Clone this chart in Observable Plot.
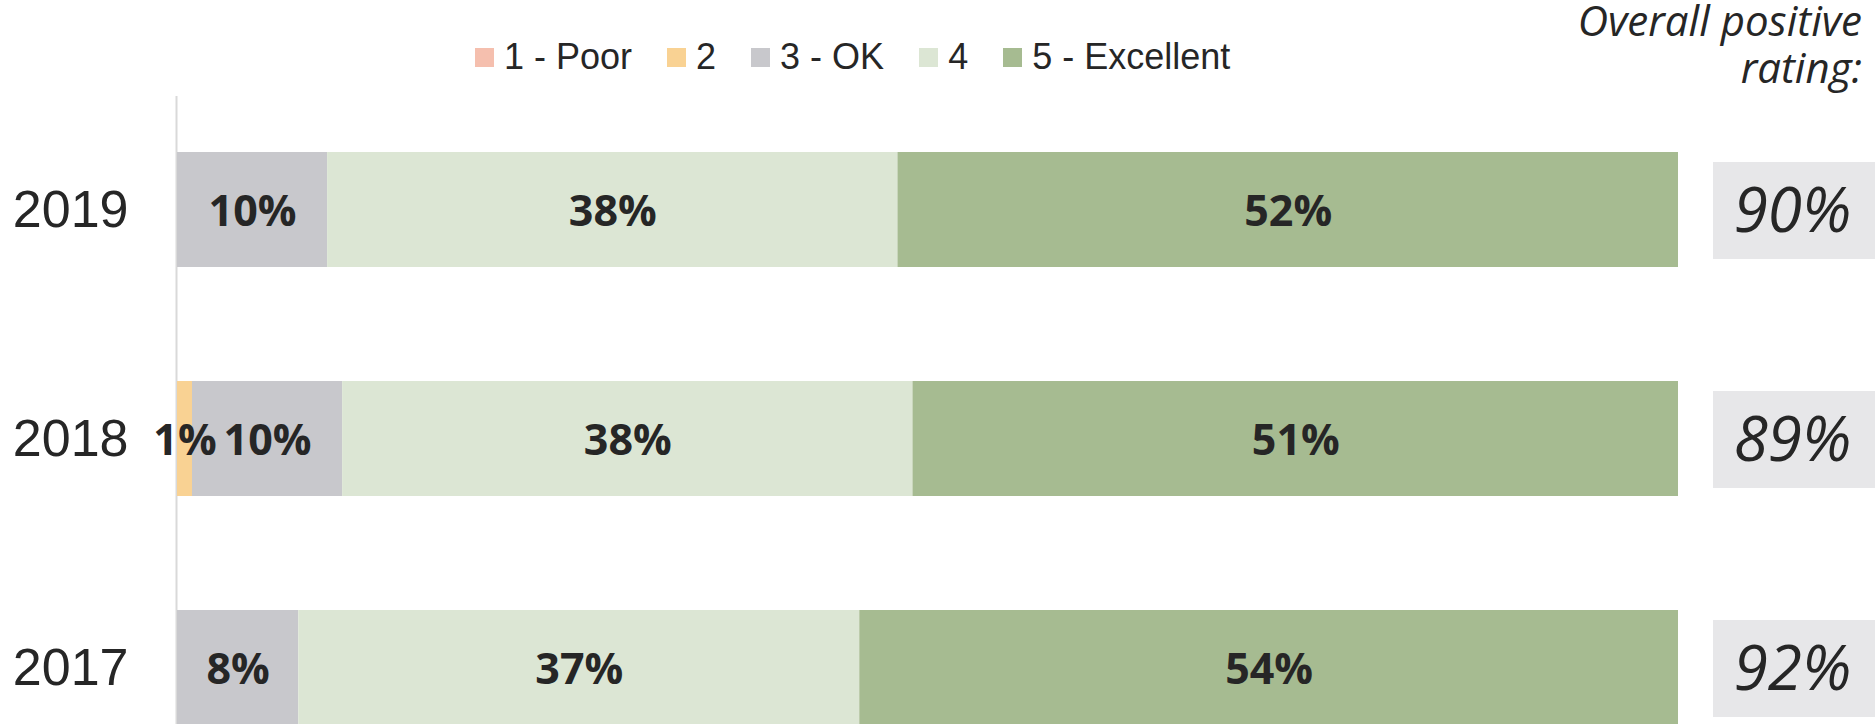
<!DOCTYPE html>
<html><head><meta charset="utf-8">
<script src="https://cdn.jsdelivr.net/npm/d3@7"></script>
<script src="https://cdn.jsdelivr.net/npm/@observablehq/plot@0.6"></script>
<style>
html,body{margin:0;padding:0;background:#fff;overflow:hidden;}
#wrap{position:relative;width:1875px;height:724px;overflow:hidden;}
#header{position:relative;height:96px;}
#legend{position:absolute;left:475px;top:36px;display:flex;align-items:center;font-family:"Liberation Sans",Arial,sans-serif;font-size:36px;color:#262626;white-space:nowrap;}
.item{display:flex;align-items:center;margin-right:35px;}
.sw{width:19px;height:19px;margin-right:10px;}
#title{position:absolute;right:13px;top:0px;text-align:right;font-family:"Open Sans",sans-serif;font-style:italic;font-size:42px;color:#262626;z-index:2;}
#title div{line-height:40px;height:40px;}
#title div + div{margin-top:7px;}
</style></head>
<body>
<div id="wrap">
  <div id="header"><div id="legend"></div><div id="title"><div>Overall positive</div><div>rating:</div></div></div>
  <div id="chart"></div>
</div>
<script>
// ---- data ----
const years = ["2019", "2018", "2017"];
const ratings = ["1 - Poor", "2", "3 - OK", "4", "5 - Excellent"];
const ratingColors = ["#f5bfae", "#f9d293", "#c8c8cc", "#dce6d4", "#a6bb91"];
const values2019 = [0, 0, 10, 38, 52];
const values2018 = [0, 1, 10, 38, 51];
const values2017 = [0, 0, 8, 37, 54];
const overallPositive = [90, 89, 92];

// ---- tables built from the arrays ----
const byYear = {"2019": values2019, "2018": values2018, "2017": values2017};
const rows = [];
years.forEach(y => ratings.forEach((r, j) => rows.push({year: y, rating: r, value: byYear[y][j]})));
const overallRows = years.map((y, i) => ({year: y, value: overallPositive[i]}));

// ---- legend ----
const legend = document.getElementById("legend");
ratings.forEach((r, i) => {
  const it = document.createElement("div"); it.className = "item";
  const sw = document.createElement("span"); sw.className = "sw"; sw.style.background = ratingColors[i];
  const tx = document.createElement("span"); tx.textContent = r;
  it.appendChild(sw); it.appendChild(tx); legend.appendChild(it);
});

// layout constants (positions beyond the 100% bar, in normalized x units)
const boxX1 = 1 + 35 / 1501, boxX2 = 1 + 220 / 1501, boxTextX = 1 + 114 / 1501;

const chart = Plot.plot({
  width: 1875,
  height: 628,
  marginTop: 0, marginBottom: 0, marginLeft: 177, marginRight: 197,
  style: {color: "#262626", background: "transparent", overflow: "visible"},
  x: {domain: [0, 1], axis: null},
  y: {domain: years, range: [56, 629], paddingInner: 0.5, paddingOuter: 0, axis: null},
  color: {domain: ratings, range: ratingColors},
  marks: [
    Plot.ruleX([0], {stroke: "#d9d9d9", strokeWidth: 2, dx: -1}),
    Plot.barX(rows, Plot.stackX({x: "value", y: "year", fill: "rating", offset: "normalize"})),
    Plot.text(rows, Plot.stackX({x: "value", y: "year", offset: "normalize", filter: d => d.value > 0,
      text: d => d.value + "%", fontFamily: "Open Sans", fontWeight: 700, fontSize: 43, fill: "#262626", dy: 2})),
    Plot.axisY({tickSize: 0, tickPadding: 49, fontSize: 52, fontFamily: "Liberation Sans", label: null}),
    Plot.barX(overallRows, {y: "year", x1: () => boxX1, x2: () => boxX2, fill: "#e7e7e9", insetTop: 10, insetBottom: 8}),
    Plot.text(overallRows, {y: "year", x: () => boxTextX, text: d => d.value + "%", fontFamily: "Open Sans",
      fontStyle: "italic", fontWeight: 400, fontSize: 62, fill: "#262626", dy: 2})
  ]
});
document.getElementById("chart").appendChild(chart);
</script>
</body></html>
